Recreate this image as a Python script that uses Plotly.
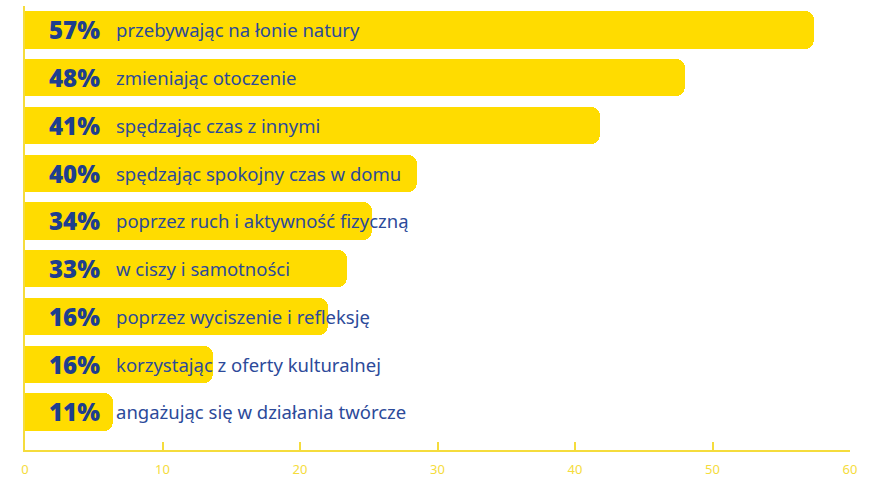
import plotly.graph_objects as go

pct_labels = ["57%", "48%", "41%", "40%", "34%", "33%", "16%", "16%", "11%"]
descriptions = [
    "przebywając na łonie natury",
    "zmieniając otoczenie",
    "spędzając czas z innymi",
    "spędzając spokojny czas w domu",
    "poprzez ruch i aktywność fizyczną",
    "w ciszy i samotności",
    "poprzez wyciszenie i refleksję",
    "korzystając z oferty kulturalnej",
    "angażując się w działania twórcze",
]
# bar lengths as drawn against the axis (they differ from the printed %)
bar_lengths = [57.4, 48.0, 41.8, 28.5, 25.2, 23.4, 22.0, 13.7, 6.4]
x_ticks = [0, 10, 20, 30, 40, 50, 60]

YELLOW = "#FFDC00"
AXIS_YELLOW = "#F5DC3C"
PCT_BLUE = "#1E3E8E"
DESC_BLUE = "#2C4A9A"

positions = list(range(len(bar_lengths)))

fig = go.Figure()
fig.add_trace(go.Bar(
    x=bar_lengths,
    y=positions,
    orientation="h",
    width=0.78,
    marker=dict(color=YELLOW, line=dict(width=0), cornerradius=9),
    hoverinfo="skip",
))

annotations = []
for i, (p, d) in enumerate(zip(pct_labels, descriptions)):
    annotations.append(dict(
        x=1.6, y=i, xref="x", yref="y", text=p, showarrow=False,
        xanchor="left", yanchor="middle",
        font=dict(family="Open Sans", size=24, color=PCT_BLUE, weight=800),
    ))
    annotations.append(dict(
        x=6.5, y=i, xref="x", yref="y", text=d, showarrow=False,
        xanchor="left", yanchor="middle",
        font=dict(family="Noto Sans", size=18.5, color=DESC_BLUE),
    ))

fig.update_layout(
    width=880, height=480,
    margin=dict(l=25, r=30, t=6, b=30),
    paper_bgcolor="white", plot_bgcolor="white",
    showlegend=False,
    bargap=0,
    annotations=annotations,
    xaxis=dict(
        range=[0, 60], tickvals=x_ticks, ticktext=[str(v) for v in x_ticks],
        showgrid=False, zeroline=False, automargin=False,
        showline=True, linecolor=AXIS_YELLOW, linewidth=1.5,
        ticks="inside", ticklen=8, tickcolor=AXIS_YELLOW, tickwidth=1.5,
        ticklabelstandoff=7,
        tickfont=dict(family="Noto Sans", size=13, color=AXIS_YELLOW),
        fixedrange=True,
    ),
    yaxis=dict(
        range=[8.796, -0.5], showticklabels=False, showgrid=False,
        zeroline=False, showline=True, linecolor=AXIS_YELLOW, linewidth=1.5,
        ticks="", fixedrange=True, automargin=False,
    ),
)

fig.write_html("out.html")
